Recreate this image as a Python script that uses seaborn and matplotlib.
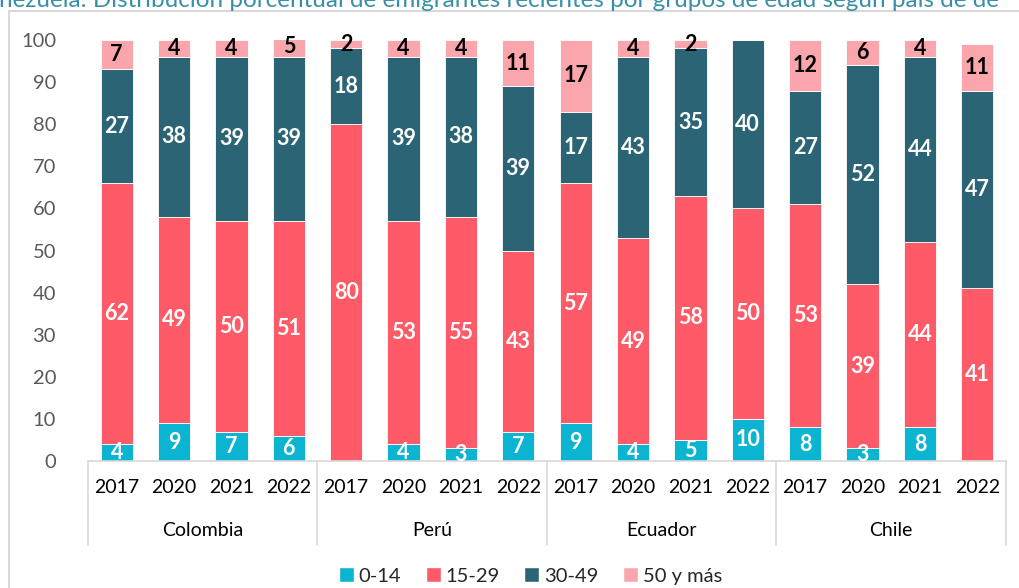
import numpy as np
import pandas as pd
import matplotlib
matplotlib.use("Agg")
import matplotlib.pyplot as plt
from matplotlib.patches import Patch
from matplotlib.lines import Line2D
import seaborn as sns

# data
countries = ["Colombia", "Perú", "Ecuador", "Chile"]
years = ["2017", "2020", "2021", "2022"]
groups = ["0-14", "15-29", "30-49", "50 y más"]

age_0_14 = [4, 9, 7, 6, 0, 4, 3, 7, 9, 4, 5, 10, 8, 3, 8, 0]
age_15_29 = [62, 49, 50, 51, 80, 53, 55, 43, 57, 49, 58, 50, 53, 39, 44, 41]
age_30_49 = [27, 38, 39, 39, 18, 39, 38, 39, 17, 43, 35, 40, 27, 52, 44, 47]
age_50_mas = [7, 4, 4, 5, 2, 4, 4, 11, 17, 4, 2, 0, 12, 6, 4, 11]

colors = {"0-14": "#0BB5D2", "15-29": "#FF5A67", "30-49": "#2B6575", "50 y más": "#FBA6AD"}
label_colors = {"0-14": "white", "15-29": "white", "30-49": "white", "50 y más": "black"}

title = "nezuela: Distribución porcentual de emigrantes recientes por grupos de edad según país de de"

sns.set_style("white")
plt.rcParams["font.family"] = ["Lato", "DejaVu Sans"]

series = [age_0_14, age_15_29, age_30_49, age_50_mas]
n = len(countries) * len(years)
df = pd.DataFrame({
    "pos": np.tile(np.arange(n), len(groups)),
    "grupo": np.repeat(groups, n),
    "valor": np.concatenate(series),
})

W, H = 1020, 588
fig = plt.figure(figsize=(W / 100, H / 100), dpi=100)
ax = fig.add_axes([88 / W, 1 - 461 / H, (1006 - 88) / W, (461 - 40) / H])

# histplot stacks the last hue level at the bottom
sns.histplot(
    data=df, x="pos", weights="valor", hue="grupo", hue_order=groups[::-1],
    multiple="stack", discrete=True, shrink=0.56, palette=colors,
    alpha=1, edgecolor="white", linewidth=0.6, legend=False, ax=ax,
)

# segment labels
bottom = np.zeros(n)
for g, vals in zip(groups, series):
    vals = np.array(vals, dtype=float)
    for i, v in enumerate(vals):
        if v > 0:
            ax.text(i, bottom[i] + v / 2, f"{v:.0f}", ha="center", va="center",
                    fontsize=15.5, fontweight="bold", color=label_colors[g], clip_on=False)
    bottom += vals

ax.set_xlim(-0.5, n - 0.5)
ax.set_ylim(0, 100)
ax.set_yticks(range(0, 101, 10))
ax.set_xticks([])
ax.set_xlabel("")
ax.set_ylabel("")
ax.tick_params(axis="y", length=0, labelsize=14.5, labelcolor="#595959", pad=23)
for s in ["top", "right", "left"]:
    ax.spines[s].set_visible(False)
ax.spines["bottom"].set_color("#D9D9D9")
ax.spines["bottom"].set_linewidth(1.2)

# two level category axis
tr = ax.get_xaxis_transform()
for i in range(n):
    ax.text(i, -0.064, years[i % len(years)], transform=tr, ha="center", va="center",
            fontsize=14, color="black")
for j, c in enumerate(countries):
    ax.text(j * 4 + 1.5, -0.164, c, transform=tr, ha="center", va="center",
            fontsize=14, color="black")
for x in np.arange(-0.5, n, 4):
    ax.plot([x, x], [0, -0.2], transform=tr, color="#D9D9D9", lw=1.2, clip_on=False)

# outer chart frame and clipped title
fig.add_artist(Line2D([9 / W, 9 / W], [0, 1 - 11 / H], transform=fig.transFigure,
                      color="#D9D9D9", lw=1.5))
fig.add_artist(Line2D([9 / W, 1], [1 - 11 / H, 1 - 11 / H], transform=fig.transFigure,
                      color="#D9D9D9", lw=1.5))
fig.text(-0.001, 1 - 7 / H, title, ha="left", va="baseline", fontsize=17.5, color="#3A8FA8")

handles = [Patch(facecolor=colors[g], label=g) for g in groups]
fig.legend(handles=handles, loc="center", bbox_to_anchor=(0.52, 1 - 576 / H), ncol=4,
           frameon=False, fontsize=14.5, handlelength=0.75, handleheight=0.75,
           handletextpad=0.25, columnspacing=1.2, labelcolor="#262626")

plt.savefig("out.png", dpi=100)
